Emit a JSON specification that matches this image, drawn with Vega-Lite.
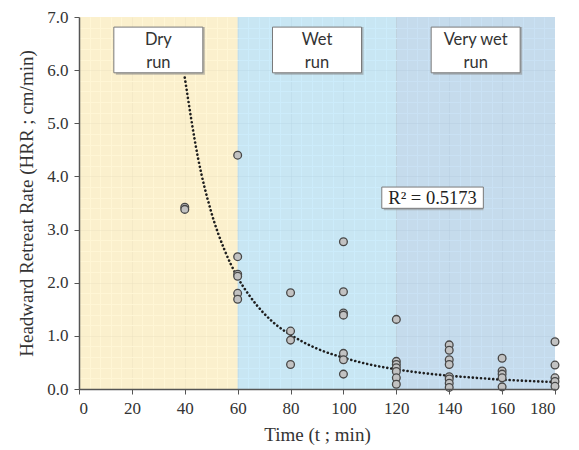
{
  "$schema": "https://vega.github.io/schema/vega-lite/v6.json",
  "width": 476,
  "height": 372,
  "autosize": "none",
  "padding": {"left": 79, "top": 17, "right": 24, "bottom": 61},
  "background": "white",
  "config": {
    "view": {"stroke": null, "fill": "#ECE1D7"},
    "style": {
      "guide-label": {"font": "Liberation Serif", "fontSize": 17, "fill": "#333333"},
      "guide-title": {"font": "Liberation Serif", "fontSize": 19, "fill": "#333333"}
    },
    "axis": {
      "labelFont": "Liberation Serif",
      "labelFontSize": 17,
      "labelFontWeight": "normal",
      "labelColor": "#333333",
      "titleFont": "Liberation Serif",
      "titleFontSize": 19,
      "titleFontWeight": "normal",
      "titleColor": "#333333",
      "domainColor": "#555555",
      "domainWidth": 1.5,
      "tickColor": "#555555",
      "tickSize": 5
    }
  },
  "datasets": {
    "phases": [
      {"phase": "Dry run", "label": ["Dry", "run"], "start": 0, "end": 60},
      {"phase": "Wet run", "label": ["Wet", "run"], "start": 60, "end": 120},
      {"phase": "Very wet run", "label": ["Very wet", "run"], "start": 120, "end": 180}
    ],
    "runs": [
      {"t": 40, "hrr": 3.42}, {"t": 40, "hrr": 3.38},
      {"t": 60, "hrr": 4.40}, {"t": 60, "hrr": 2.49}, {"t": 60, "hrr": 2.16}, {"t": 60, "hrr": 2.12}, {"t": 60, "hrr": 1.80}, {"t": 60, "hrr": 1.69},
      {"t": 80, "hrr": 1.81}, {"t": 80, "hrr": 1.09}, {"t": 80, "hrr": 0.92}, {"t": 80, "hrr": 0.46},
      {"t": 100, "hrr": 2.77}, {"t": 100, "hrr": 1.83}, {"t": 100, "hrr": 1.43}, {"t": 100, "hrr": 1.39}, {"t": 100, "hrr": 0.67}, {"t": 100, "hrr": 0.55}, {"t": 100, "hrr": 0.28},
      {"t": 120, "hrr": 1.31}, {"t": 120, "hrr": 0.52}, {"t": 120, "hrr": 0.46}, {"t": 120, "hrr": 0.40}, {"t": 120, "hrr": 0.33}, {"t": 120, "hrr": 0.21}, {"t": 120, "hrr": 0.09},
      {"t": 140, "hrr": 0.83}, {"t": 140, "hrr": 0.73}, {"t": 140, "hrr": 0.55}, {"t": 140, "hrr": 0.46}, {"t": 140, "hrr": 0.23}, {"t": 140, "hrr": 0.19}, {"t": 140, "hrr": 0.11}, {"t": 140, "hrr": 0.03},
      {"t": 160, "hrr": 0.58}, {"t": 160, "hrr": 0.34}, {"t": 160, "hrr": 0.28}, {"t": 160, "hrr": 0.21}, {"t": 160, "hrr": 0.04},
      {"t": 180, "hrr": 0.89}, {"t": 180, "hrr": 0.45}, {"t": 180, "hrr": 0.21}, {"t": 180, "hrr": 0.14}, {"t": 180, "hrr": 0.05}
    ],
    "trend": [
      {"t": 40, "hrr": 5.86}, {"t": 45, "hrr": 4.35}, {"t": 50, "hrr": 3.33}, {"t": 55, "hrr": 2.62},
      {"t": 60, "hrr": 2.10}, {"t": 65, "hrr": 1.72}, {"t": 70, "hrr": 1.42}, {"t": 75, "hrr": 1.19},
      {"t": 80, "hrr": 1.02}, {"t": 90, "hrr": 0.76}, {"t": 100, "hrr": 0.59}, {"t": 110, "hrr": 0.46},
      {"t": 120, "hrr": 0.37}, {"t": 130, "hrr": 0.30}, {"t": 140, "hrr": 0.25}, {"t": 150, "hrr": 0.21},
      {"t": 160, "hrr": 0.176}, {"t": 170, "hrr": 0.151}, {"t": 180, "hrr": 0.13}
    ]
  },
  "resolve": {"axis": {"x": "independent", "y": "independent"}},
  "layer": [
    {
      "data": {"name": "phases"},
      "mark": {"type": "rect", "fillOpacity": 0.8, "strokeWidth": 0},
      "encoding": {
        "x": {
          "field": "start", "type": "quantitative",
          "scale": {"domain": [0, 180], "nice": false, "zero": false, "padding": 0},
          "axis": {
            "orient": "bottom", "zindex": 0,
            "values": [4,8,12,16,24,28,32,36,44,48,52,56,64,68,72,76,84,88,92,96,104,108,112,116,124,128,132,136,144,148,152,156,164,168,172,176],
            "grid": true, "gridColor": "#ffffff", "gridOpacity": 1, "gridWidth": 1,
            "labels": false, "ticks": false, "domain": false, "title": null
          }
        },
        "x2": {"field": "end"},
        "y": {
          "datum": 0, "type": "quantitative",
          "scale": {"domain": [0, 7], "nice": false, "padding": 0},
          "axis": {
            "orient": "left", "zindex": 0,
            "values": [0.2,0.4,0.6,0.8,1.2,1.4,1.6,1.8,2.2,2.4,2.6,2.8,3.2,3.4,3.6,3.8,4.2,4.4,4.6,4.8,5.2,5.4,5.6,5.8,6.2,6.4,6.6,6.8],
            "grid": true, "gridColor": "#ffffff", "gridOpacity": 1, "gridWidth": 1,
            "labels": false, "ticks": false, "domain": false, "title": null
          }
        },
        "y2": {"datum": 7},
        "color": {
          "field": "phase", "type": "nominal",
          "scale": {"domain": ["Dry run", "Wet run", "Very wet run"], "range": ["#FFF4CB", "#BFE7FA", "#BCD9F1"]},
          "legend": null
        }
      }
    },
    {
      "data": {"name": "trend"},
      "mark": {"type": "line", "color": "#1e1e1e", "strokeWidth": 2.6, "strokeDash": [0.1, 4], "strokeCap": "round", "interpolate": "monotone"},
      "encoding": {
        "x": {
          "field": "t", "type": "quantitative",
          "axis": {
            "orient": "bottom", "zindex": 0,
            "values": [20, 40, 60, 80, 100, 120, 140, 160],
            "grid": true, "gridColor": "#8c8c8c", "gridOpacity": 0.4, "gridWidth": 1,
            "labels": false, "ticks": false, "domain": false, "title": null
          }
        },
        "y": {
          "field": "hrr", "type": "quantitative",
          "axis": {
            "orient": "left", "zindex": 0,
            "values": [1, 2, 3, 4, 5, 6],
            "grid": true, "gridColor": "#8c8c8c", "gridOpacity": 0.4, "gridWidth": 1,
            "labels": false, "ticks": false, "domain": false, "title": null
          }
        }
      }
    },
    {
      "data": {"name": "runs"},
      "mark": {"type": "point", "shape": "circle", "filled": true, "fill": "#c2c2c2", "stroke": "#474747", "strokeWidth": 1.3, "size": 60, "opacity": 1},
      "encoding": {
        "x": {
          "field": "t", "type": "quantitative",
          "axis": {
            "orient": "bottom", "zindex": 1, "grid": false,
            "values": [0, 20, 40, 60, 80, 100, 120, 140, 160, 180],
            "labelFont": "Liberation Serif", "labelFontSize": 17,
            "titleFont": "Liberation Serif", "titleFontSize": 19,
            "labelPadding": 6, "titlePadding": 9,
            "title": "Time (t ; min)"
          }
        },
        "y": {
          "field": "hrr", "type": "quantitative",
          "axis": {
            "orient": "left", "zindex": 1, "grid": false,
            "values": [0, 1, 2, 3, 4, 5, 6, 7], "format": ".1f",
            "labelFont": "Liberation Serif", "labelFontSize": 17,
            "titleFont": "Liberation Serif", "titleFontSize": 19,
            "labelPadding": 6, "titlePadding": 10,
            "title": "Headward Retreat Rate (HRR ; cm/min)"
          }
        }
      }
    },
    {
      "data": {"name": "phases"},
      "transform": [{"calculate": "(datum.start + datum.end) / 2", "as": "mid"}],
      "layer": [
        {
          "mark": {"type": "bar", "size": 89, "color": "#8a8a8a", "opacity": 0.55, "xOffset": 2, "yOffset": 2},
          "encoding": {
            "x": {
              "field": "mid", "type": "quantitative",
              "axis": {"orient": "top", "zindex": 1, "grid": false, "labels": false, "ticks": false, "domain": true, "domainColor": "#777777", "title": null}
            },
            "y": {
              "datum": 5.95, "type": "quantitative",
              "axis": {"orient": "right", "zindex": 1, "grid": false, "labels": false, "ticks": false, "domain": true, "domainColor": "#666666", "title": null}
            },
            "y2": {"datum": 6.81}
          }
        },
        {
          "mark": {"type": "bar", "size": 89, "fill": "#ffffff", "stroke": "#7a7a7a", "strokeWidth": 1},
          "encoding": {
            "x": {"field": "mid", "type": "quantitative", "axis": null},
            "y": {"datum": 5.95, "type": "quantitative", "axis": null},
            "y2": {"datum": 6.81}
          }
        },
        {
          "mark": {"type": "text", "font": "Lato", "fontSize": 16.5, "color": "#333333", "lineHeight": 23, "align": "center", "baseline": "middle"},
          "encoding": {
            "x": {"field": "mid", "type": "quantitative", "axis": null},
            "y": {"datum": 6.57, "type": "quantitative", "axis": null},
            "text": {"field": "label"}
          }
        }
      ]
    },
    {
      "data": {"values": [{"stat": "R² = 0.5173"}]},
      "layer": [
        {
          "mark": {"type": "rect", "color": "#8a8a8a", "opacity": 0.55, "xOffset": 2, "yOffset": 2},
          "encoding": {
            "x": {"datum": 114.5, "type": "quantitative", "axis": null},
            "x2": {"datum": 152.9},
            "y": {"datum": 3.40, "type": "quantitative", "axis": null},
            "y2": {"datum": 3.80}
          }
        },
        {
          "mark": {"type": "rect", "fill": "#ffffff", "stroke": "#7a7a7a", "strokeWidth": 1},
          "encoding": {
            "x": {"datum": 114.5, "type": "quantitative", "axis": null},
            "x2": {"datum": 152.9},
            "y": {"datum": 3.40, "type": "quantitative", "axis": null},
            "y2": {"datum": 3.80}
          }
        },
        {
          "mark": {"type": "text", "font": "Liberation Serif", "fontSize": 18.5, "color": "#222222", "align": "center", "baseline": "middle"},
          "encoding": {
            "x": {"datum": 133.7, "type": "quantitative", "axis": null},
            "y": {"datum": 3.6, "type": "quantitative", "axis": null},
            "text": {"field": "stat"}
          }
        }
      ]
    }
  ]
}
